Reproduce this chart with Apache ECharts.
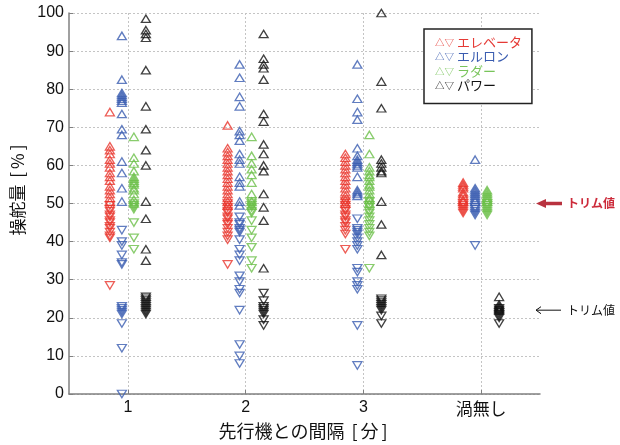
<!DOCTYPE html>
<html>
<head>
<meta charset="utf-8">
<script src="https://cdn.jsdelivr.net/npm/echarts@6/dist/echarts.min.js"></script>
<style>
  html, body { margin: 0; padding: 0; background: #fff; }
  #chart { width: 620px; height: 445px; }
</style>
</head>
<body>
<div id="chart"></div>
<script>
// Gap to the leading aircraft (minutes); the last group is flight without wake vortex
const categories = ['1', '2', '3', '渦無し'];

// Control input [%] per gap group: "Up" = maximum (△), "Down" = minimum (▽)
const elevatorUp = [
  [74, 65, 64, 63, 61.5, 60.5, 59.5, 58, 57, 56, 54.5, 53.5, 52.5, 51.5, 50.5],
  [70.5, 64.5, 63.5, 62.5, 61.5, 60.5, 59.5, 58.5, 57.5, 56.5, 55.5, 54.5, 53.5, 52.5, 51.5, 50.5, 49.5],
  [63, 62, 61, 60, 59, 58, 57, 56, 55, 54, 53, 52, 51, 50],
  [55.5, 55, 54.5, 54, 53, 52.5, 52, 51, 50.5]
];
const elevatorDown = [
  [49.5, 48.5, 48, 47, 46.5, 45.5, 45, 44, 43.5, 42.5, 41.5, 41, 28.5],
  [50, 49, 48, 47.5, 46.5, 46, 45, 44.5, 43.5, 42.5, 41.5, 40.5, 34],
  [50.5, 49.5, 48.5, 48, 47, 46.5, 45.5, 45, 44, 43, 42, 38],
  [50, 49.5, 49, 48.5, 48, 47.5]
];
const aileronUp = [
  [94, 82.5, 79, 78.5, 78, 77.5, 77, 76.5, 73.5, 69.5, 68, 61, 58, 54, 50.5],
  [86.5, 83, 78, 75.5, 69, 68, 66.5, 63, 61.5, 60.5, 57, 55.5, 54.5, 50.5, 49.5],
  [86.5, 77.5, 74, 72, 64.5, 62.5, 61.5, 61, 60.5, 60, 59.5, 57, 53.5, 53, 52.5, 52],
  [61.5, 54, 53.5, 53, 52.5, 52, 51.5, 51, 50.5]
];
const aileronDown = [
  [43, 40, 39, 36.5, 34.5, 34, 23, 22.5, 22, 21.5, 21, 18.5, 12, 0],
  [46.5, 45, 44.5, 43.5, 43, 42.5, 40.5, 38, 36.5, 35, 31, 29.5, 27.5, 26.5, 22, 13, 10, 8],
  [46, 43.5, 43, 42.5, 42, 41, 40, 39, 38, 33, 32, 29.5, 28.5, 27.5, 18, 7.5],
  [49, 48.5, 48, 47.5, 47, 39]
];
const rudderUp = [
  [67.5, 62, 60.5, 58.5, 57, 56.5, 56, 55.5, 55, 54, 53.5, 52.5, 51, 50],
  [67.5, 62.5, 60.5, 59, 57.5, 55.5, 52.5, 50.5, 49.5],
  [68, 63, 59.5, 58.5, 57.5, 57, 56, 55, 54.5, 53.5, 52.5, 51.5, 51, 50],
  [53.5, 53, 52.5, 52, 51.5, 51, 50.5]
];
const rudderDown = [
  [50, 49.5, 49, 48.5, 45, 41, 38],
  [50.5, 50, 49.5, 49, 48, 47.5, 45.5, 43, 41, 38.5, 35, 33],
  [50.5, 49.5, 49, 48, 47.5, 46.5, 45.5, 44.5, 43.5, 42.5, 41.5, 33],
  [50, 49.5, 49, 48.5, 48, 47.5, 47]
];
const powerUp = [
  [98.5, 95.5, 94.5, 93.5, 85, 75.5, 69.5, 64, 60, 50.5, 46, 38, 35],
  [94.5, 88, 86.5, 85.5, 82.5, 73.5, 71.5, 65.5, 63, 60, 58.5, 52.5, 49, 45.5, 33],
  [100, 82, 75, 61.5, 60.5, 59.5, 58.5, 58, 50.5, 44.5, 36.5],
  [25.5, 23.5, 23, 22.5, 22]
];
const powerDown = [
  [25.5, 25, 24.5, 24, 23.5, 23, 22.5, 22, 21.5, 21],
  [26.5, 24.5, 23, 22.5, 22, 21.5, 21, 19.5, 18],
  [25, 24.5, 24, 23.5, 23, 22.5, 22, 20.5, 18.5],
  [22.5, 22, 21.5, 21, 20.5, 20, 18.5]
];

// Trim values marked at the right edge
const trimValues = [50, 22];
const trimLabel = 'トリム値';

const channels = [
  { name: 'エレベータ', color: '#e8342c', text: '#e53a35', offset: -18, up: elevatorUp, down: elevatorDown },
  { name: 'エルロン', color: '#3a5cb0', text: '#3a5cb0', offset: -6, up: aileronUp, down: aileronDown },
  { name: 'ラダー', color: '#6cbf48', text: '#78c45a', offset: 6, up: rudderUp, down: rudderDown },
  { name: 'パワー', color: '#111111', text: '#111111', offset: 18, up: powerUp, down: powerDown }
];

function toPoints(groups) {
  const pts = [];
  groups.forEach((vals, i) => vals.forEach(v => pts.push([i + 1, v])));
  return pts;
}

const series = [];
channels.forEach(ch => {
  [['up', 0], ['down', 180]].forEach(([key, rot]) => {
    series.push({
      type: 'scatter',
      name: ch.name,
      data: toPoints(ch[key]),
      symbol: 'triangle',
      symbolSize: [9, 7.5],
      symbolRotate: rot,
      symbolOffset: [ch.offset, 0],
      itemStyle: { color: 'rgba(0,0,0,0)', borderColor: ch.color, borderWidth: 1.3 },
      emphasis: { disabled: true },
      silent: true
    });
  });
});

const latin = 'Liberation Sans, Arial, sans-serif';
const cjk = 'Noto Sans CJK JP, sans-serif';
const ink = '#111';
const gridLine = { show: true, lineStyle: { color: '#c4c4c4', width: 1, type: [2, 2] } };
const axisGray = { show: true, lineStyle: { color: '#808080', width: 1.5 } };
// widened square brackets used in the axis titles
const bracketRich = { br: { padding: [0, 3] } };

const chart = echarts.init(document.getElementById('chart'));
chart.setOption({
  animation: false,
  backgroundColor: '#fff',
  grid: { left: 69, right: 80, top: 13, bottom: 51 },
  xAxis: {
    type: 'value',
    min: 0.5,
    max: 4.5,
    axisLine: axisGray,
    axisTick: { inside: true, length: 4, customValues: [1, 2, 3, 4], lineStyle: { color: '#808080' } },
    axisLabel: {
      margin: 6,
      color: ink,
      fontFamily: latin,
      fontSize: 16,
      customValues: [1, 2, 3, 4],
      formatter: v => {
        const label = categories[Math.round(v) - 1];
        return /^[0-9]+$/.test(label) ? label : '{c|' + label + '}';
      },
      rich: { c: { fontFamily: cjk, fontSize: 17, color: ink } }
    },
    splitLine: gridLine,
    name: '先行機との間隔 {br|[}分{br|]}',
    nameLocation: 'middle',
    nameGap: 28,
    nameTextStyle: { fontFamily: cjk, fontSize: 18, color: ink, rich: bracketRich }
  },
  yAxis: {
    type: 'value',
    min: 0,
    max: 100,
    interval: 10,
    axisLine: axisGray,
    axisTick: { show: true, inside: true, length: 4, lineStyle: { color: '#808080' } },
    axisLabel: { margin: 5, color: ink, fontFamily: latin, fontSize: 16 },
    splitLine: gridLine,
    name: '{p| }操舵量 {br|[}%{br|]}',
    nameLocation: 'middle',
    nameGap: 36,
    nameTextStyle: {
      fontFamily: cjk, fontSize: 17, color: ink,
      rich: { br: { padding: [0, 3] }, p: { width: 30 } }
    }
  },
  legend: {
    orient: 'vertical',
    left: 424,
    top: 29,
    padding: [6, 10, 11, 6],
    itemWidth: 0,
    itemHeight: 14,
    itemGap: 0.5,
    borderColor: '#222',
    borderWidth: 1.5,
    backgroundColor: '#fff',
    selectedMode: false,
    data: channels.map(ch => ({ name: ch.name, icon: 'none', textStyle: { color: ch.text } })),
    formatter: name => '{s|△▽} ' + name,
    textStyle: {
      fontFamily: cjk,
      fontSize: 13,
      lineHeight: 14,
      rich: { s: { fontFamily: cjk, fontSize: 9.5 } }
    }
  },
  series: series
});

// Trim value arrows drawn just outside the right edge of the plot
const xEdge = chart.convertToPixel({ xAxisIndex: 0 }, 4.5);
const trimStyles = [
  { color: '#b8323f', textColor: '#cc2a3a', heavy: true },
  { color: '#111111', textColor: '#111111', heavy: false }
];
const graphics = [];
trimValues.forEach((v, i) => {
  const y = chart.convertToPixel({ yAxisIndex: 0 }, v);
  const st = trimStyles[i];
  const tip = xEdge - 4;
  if (st.heavy) {
    graphics.push({ type: 'polygon', shape: { points: [[tip, y], [tip + 10, y - 4.5], [tip + 10, y + 4.5]] }, style: { fill: st.color } });
    graphics.push({ type: 'line', shape: { x1: tip + 9, y1: y, x2: tip + 26, y2: y }, style: { stroke: st.color, lineWidth: 3.5 } });
  } else {
    graphics.push({ type: 'line', shape: { x1: tip, y1: y, x2: tip + 25, y2: y }, style: { stroke: st.color, lineWidth: 1 } });
    graphics.push({ type: 'polyline', shape: { points: [[tip + 5, y - 3.5], [tip, y], [tip + 5, y + 3.5]] }, style: { stroke: st.color, lineWidth: 1, fill: null } });
  }
  graphics.push({
    type: 'text',
    x: tip + 31,
    y: y,
    style: {
      text: trimLabel,
      fill: st.textColor,
      font: (st.heavy ? 'bold ' : '') + '12px "Noto Sans CJK JP", sans-serif',
      verticalAlign: 'middle',
      align: 'left'
    }
  });
});
chart.setOption({ graphic: graphics });
</script>
</body>
</html>
